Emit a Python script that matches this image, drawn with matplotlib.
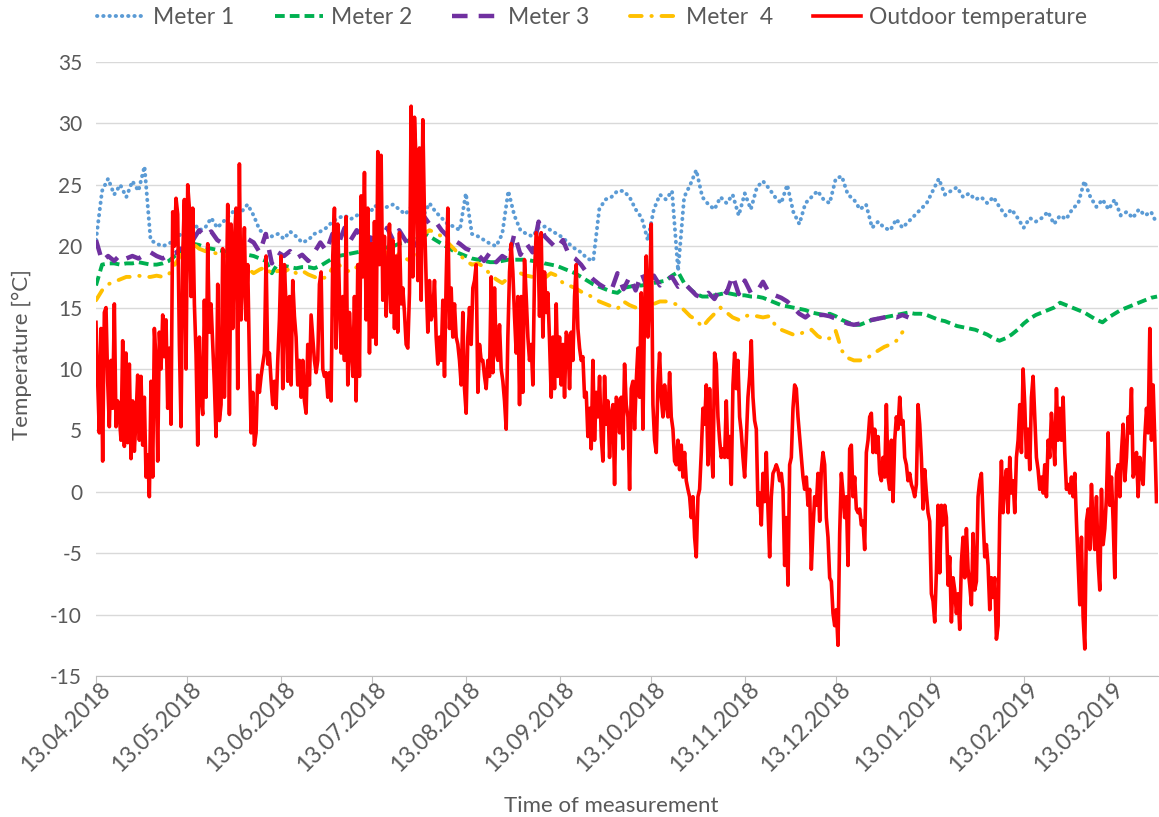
import numpy as np
import pandas as pd
import matplotlib.pyplot as plt
import matplotlib.dates as mdates
from matplotlib.transforms import ScaledTranslation

plt.rcParams['font.family'] = ['Lato', 'DejaVu Sans']
plt.rcParams['axes.unicode_minus'] = False

# outdoor temperature [°C], one reading every 13.2 h from 13.04.2018
outdoor_apr_jun = [
    13.8, 9, 4.8, 13.3, 2.5, 14.6, 15, 9, 5.3, 10.7, 6.8, 15.3, 5.3, 7.4, 6.1, 4.2, 12.3, 3.7, 11.3, 4.0,
    10.4, 2.7, 7.4, 3.3, 6, 9.5, 4.2, 9.4, 3.8, 7.7, 1.2, 3, -0.4, 9.0, 1.2, 13.3, 10.7, 2.5, 13, 10,
    14.4, 11, 14, 6.8, 11.7, 5.5, 22.8, 20, 23.9, 22.6, 12, 5.3, 19.2, 23.8, 10, 25, 23.1, 15.9,
    23.1, 15.3, 11.2, 3.8, 12.6, 7.7, 6.3, 15.6, 7.7, 20.2, 13, 15.3, 12, 8.7, 4.5, 16.9, 5.8, 7.1, 19.8, 7.7,
    14.3, 23.4, 6.3, 21.8, 13.3, 20.5, 23.1, 8.4, 26.7, 14, 17.2, 21.5, 14, 18.5, 10.7, 4.8, 8.1, 3.8, 4.8, 9.5,
    8.1, 9.4, 10.4, 11.3, 19.2, 10.4, 11.3, 9, 7.1, 9, 6.8, 10.7, 14, 19.2, 8.4, 18.5, 15, 9, 15.9, 8.7,
    17.2, 14.3, 12.6, 8.7, 10.7, 7.7,
]
outdoor_jun_aug = [
    10.7, 7.4, 6.4, 12, 8.7, 14.4, 12.6, 10.7, 9.7, 10.7, 16.9, 17.9, 10, 9.4, 9.7, 7.7, 9.7, 7.4, 19.2, 23.1,
    11.7, 21.8, 15.9, 11.3, 15.9, 10.7, 22.4, 8.7, 14.6, 11.7, 9.4, 15.9, 7.4, 18.5, 9.4, 24.1, 17.5, 26, 14, 23.1,
    11.3, 20.2, 12.6, 22, 12, 27.7, 18.5, 27.4, 15.6, 20.8, 14.3, 17.2, 21.8, 14.6, 20.5, 13.3, 19.2, 13, 21.1, 15.3,
    16.6, 14.6, 12,
    11.7, 16.2, 31.4, 17.5, 30.5, 26.7, 17.2, 28, 15.6, 30.3, 22.4, 17.2, 13, 17.2, 14, 14.6, 17.2, 12.6, 10.4, 12.6,
    10.7, 15.6, 9.4, 17.2, 23.1, 13.3, 16.6, 12.6, 15.3, 12.6, 12, 10.7, 8.7, 14.6, 8.4, 6.4, 12.6, 15, 12, 16.6,
    17.2, 18.5, 8.1, 12, 10.7, 10.7, 9.4, 8.4, 10.7, 9.4, 17.5, 9.7, 16.6, 11.3, 10.7, 13.6, 10, 9, 7.4, 5.1,
    12.6, 17.9, 20.2,
]
outdoor_aug_dec = [
    17.9, 14.3, 11.3, 15.9, 7.1, 15.9, 8.1, 18.9, 15.9, 12.6, 10.7, 12, 8.7, 17.9, 21.1, 20.5, 14.3, 21.1, 12.6, 17.9,
    14.6, 16.2, 12.3, 7.7, 12.6, 8.4, 15.3, 9.4, 12.6, 8.7, 12, 7.7, 13, 12.6, 8.4, 13, 10.7, 15.9, 18.5, 13.3,
    11.7, 10.7, 11, 7.7, 8.1, 4.5, 6.8, 3.5, 10.7, 4.2, 8.1, 6.1, 9.4, 4.5, 2.5, 9.4, 5.5, 7.4, 2.8, 6.4,
    7.1, 0.6, 7.7,
    7.4, 4.8, 7.7, 3.5, 10.4, 7.1, 6.1, 0.2, 8.4, 9.0, 5.1, 9, 11.7, 7.7, 16.2, 5.1, 15, 19.2, 12.6, 16.2,
    21.8, 7.1, 4.2, 3.2, 8.7, 11.3, 7.7, 6.1, 8.7, 7.1, 6.1, 9.7, 6.1, 5.1, 2.5, 2.2, 4.2, 1.8, 3.8, 1.2,
    3.2, 0.9, 0.2, -0.4, -2.1, -0.4, -3.7, -5.3, -0.4, 0.2, 3.2, 6.8, 5.5, 8.7, 2.2, 8.4, 3.8, 1.2, 11.3, 10.4,
    6.1, 4.2, 2.8,
    3.5, 2.8, 7.4, 2.8, 4.5, 0.6, 8.7, 11.3, 8.4, 10.7, 6.1, 4.8, 2.8, 1.2, 4.2, 7.7, 9.4, 12.3, 7.7, 5.8,
    5.1, -1.1, -0.1, -2.7, 1.5, -0.8, 3.2, -1.4, -5.3, -0.4, 1.5, 1.8, 2.2, 1.8, 0.9, 1.5, 0.2, -6.0, -2.1, -7.6,
    2.2, 2.8, 6.8, 8.7, 8.4, 6.1, 4.5, 2.8, 1.2, 0.2, 1.2, -1.1, 0.2, -6.3, -3, -0.4, -1.1, 1.5, -2.4, 1.8,
    3.2, 2.2, -2.1,
]
outdoor_dec_mar = [
    -3.7, -7.0, -7.3, -9.9, -10.9, -9.6, -12.5, -3.4, 1.5, -0.1, -2.1, -0.4, -6.0, 3.5, 3.8, -0.4, 1.2, -1.4, -1.7, -1.4,
    -2.7, -2.4, -4.7, 3.2, 4.2, 6.1, 6.4, 3.2, 5.1, 3.2, 4.5, 1.5, 0.9, 2.8, 1.2, 7.1, 1.2, 0.2, 4.2, -0.8,
    4.2, 6.1, 5.1, 7.7, 5.5, 5.8, 2.8, 2.2, 0.9, 1.5, 0.6, 0.2, -0.4, 0.6, 7.1, 5.5, 2.8, -1.4, 1.8, -0.1,
    -1.7, -2.4, -8.3,
    -8.9, -10.6, -6.6, -1.1, -6.6, -1.1, -2.7, -1.1, -2.1, -7.6, -5.3, -10.6, -7.0, -8.0, -9.9, -8.3, -11.2, -5.7, -3.7, -7.0,
    -3.0, -6.3, -7.6, -9.2, -3.4, -8.0, -7.3, -0.4, 0.9, 1.5, -2.1, -5.3, -4.3, -6.0, -9.6, -7.0, -8.6, -7.0, -12.0, -10.9,
    -2.1, 2.5, -1.7, 0.6, 1.8, -1.7, 2.8, -0.1, 0.9, -1.7, 2.8, 4.2, 7.1, 3.2, 10, 7.1, 2.8, 5.1, 1.8, 7.7,
    9.4, 6.1, 2.8,
    1.8, 0.2, 1.2, -0.1, 2.2, -0.4, 4.2, 2.8, 6.4, 4.5, 2.2, 8.4, 4.2, 6.8, 4.2, 7.7, 3.2, 0.2, 0.6, -0.1,
    1.2, -0.4, 1.5, -2.4, -5.7, -9.2, -3.7, -10.2, -12.8, -2.4, -1.4, -4.7, 0.6, -2.7, -4.7, -0.4, -5.7, -8.0, 0.2, -4.3,
    -3.0, -0.4, 4.8, -1.1, 1.2, -2.4, -7.0, 1.5, 2.2, -0.4, 3.2, 5.5, 0.9, 2.8, 6.1, 4.8, 8.4, 1.2, 1.8, 3.2,
    -0.4, 2.8, 1.5, 0.6, 4.5, 6.8, 4.8, 13.3, 4.2, 8.7, 4.2, -0.8,
]

# indoor meters [°C], one value every 2 days from 13.04.2018
meter_1 = [
    20.5, 24.5, 25.5, 24.2, 25, 24, 25.3, 24.5, 26.5, 20.5, 20.2, 20, 20.2, 20.5, 21, 21.5, 22, 21.3,
    21.5, 22.3, 21.5, 22, 22.5, 23, 22.8, 23.4, 22.5, 21.3, 21, 20.8, 21, 20.6, 21.2, 20.8, 20.3,
    20.5, 21, 21.2, 21.5, 22, 22.3, 22.5, 22.2, 22.5, 22.8, 22.6, 23.3, 23, 23.2, 23.4, 23, 22.6,
    23.2, 22.8, 22.5, 23.5, 22.8, 22.3, 21.8, 21.6, 21.3, 24.3, 21, 20.8, 20.5, 20.2, 20, 21, 24.5,
    22.5, 21.3, 21, 20.8, 21.5, 21.6, 21.3, 21, 20.7, 20.2, 19.8, 19.5, 19, 18.8, 23, 23.8, 24, 24.5,
    24.5, 24, 23, 22.3, 20.5, 23, 24.2, 23.8, 24.5, 18, 24, 25, 26.2, 24, 23.4, 23, 24,
    23.5, 24.2, 22.5, 24.3, 23, 24.8, 25.3, 24.7, 24, 23.5, 25, 22.8, 21.8, 23.5, 24, 24.5, 23.8,
    23.5, 25.5, 25.7, 24.2, 23.8, 23, 23.4, 21.5, 22, 21.5, 21.3, 22.2, 21.5, 22, 22.5, 23, 23.5,
    24.5, 25.5, 24.2, 24.5, 24.8, 24, 24.3, 23.8, 24, 23.5, 24, 23.2, 22.5, 23, 22.3, 21.5, 22.3, 22,
    22.3, 22.8, 21.8, 22.5, 22.2, 23, 23.5, 25.3, 24, 23.2, 23.8, 23, 23.8, 22.5, 22.8, 22.3, 23, 22.5, 22.8, 21.8,
]
meter_2 = [
    16.8, 18.5, 18.6, 18.6, 18.5, 18.6, 18.6, 18.7, 18.6, 18.5, 18.5, 18.6, 18.8, 19.2, 19.6, 20, 20.2,
    20.1, 19.9, 19.8, 19.7, 19.6, 19.5, 19.5, 19.4, 19.3, 19.2, 19, 18.8, 17.8, 18.6, 18.4, 18.3, 18.2,
    18.3, 18.3, 18.2, 18.4, 18.7, 19, 19.2, 19.3, 19.4, 19.5, 19.6, 19.6, 19.7, 19.8, 19.9, 20, 20.2,
    20.3, 20.6, 20.9, 21.1, 20.8, 20.5, 20.2, 19.9, 19.6, 19.4, 19.2, 19.0, 18.9, 18.8, 18.7, 18.7, 18.8, 18.9,
    18.9, 18.9, 18.9, 18.8, 18.8, 18.6, 18.5, 18.4, 18.2, 18, 17.8, 17.5, 17.2, 16.9, 16.7, 16.5, 16.3, 16.2,
    16.6, 16.7, 16.8, 16.8, 16.9, 17, 17.1, 17.2, 17.6, 17.9, 17, 16.5, 16.1, 15.9, 15.9, 16, 16.1,
    16.2, 16.1, 16, 16, 15.9, 15.9, 15.8, 15.6, 15.4, 15.2, 15.1, 15, 14.9, 14.8, 14.6, 14.5, 14.4,
    14.5, 14.3, 14, 13.8, 13.6, 13.6, 13.8, 14, 14.1, 14.2, 14.3, 14.4, 14.5, 14.6, 14.5, 14.5, 14.4,
    14.2, 14, 13.9, 13.7, 13.5, 13.4, 13.3, 13.2, 13, 12.8, 12.5, 12.3, 12.5, 12.8, 13.2, 13.7, 14.1, 14.4,
    14.6, 14.8, 15, 15.4, 15.2, 15, 14.8, 14.6, 14.3, 14, 13.8, 14.2, 14.5, 14.8, 15, 15.2, 15.4, 15.6, 15.8, 15.9,
]
meter_3 = [
    20.5, 18.8, 19.2, 18.8, 19.3, 19, 19.2, 19, 19.3, 19.5, 19.2, 19, 19.3, 19.4, 19.8, 19.6, 20.5,
    21.3, 20.8, 21.2, 20.5, 20.2, 20.8, 20.4, 20.1, 20.6, 20.3, 19.5, 21, 18.6, 19.5, 19.2, 19.6, 19,
    19.3, 18.8, 19.5, 20.3, 19.6, 21, 20.2, 21.5, 20.5, 21.3, 20.6, 20, 21.5, 20.3, 21.5, 20.5, 21.3,
    20.5, 19.8, 20.3, 22.5, 21.8, 22, 21.3, 20.8, 20.5, 20.2, 19.8, 19.6, 19.3, 18.8, 19.5, 18.7, 19.2, 18.9,
    21, 19.3, 20.2, 19.5, 22, 20.8, 20.3, 19.8, 20.5, 19.3, 19, 18.5, 17.8, 17.3, 16.9, 16.6, 16.4, 17.8,
    16.5, 17.5, 16.4, 17.8, 16.5, 17.6, 16.8, 17.3, 17.5, 16.7, 17, 16.5, 16, 15.8, 16.2, 15.7, 16.6,
    16.2, 17.6, 16.1, 17.2, 16.2, 16.3, 17.1, 16.2, 16, 15.8, 15.5, 15, 14.5, 14.2, 14.6, 14.4, 14.4,
    14.3, 14.1, 13.9, 13.7, 13.6, 13.7, 13.9, 14, 14.1, 14.2, 14.3, 14.2, 14.4, 14.2,
]
meter_4 = [
    15.6, 16.4, 16.9, 17.1, 17.3, 17.5, 17.5, 17.6, 17.5, 17.5, 17.6, 17.5, 17.7, 18.5, 19.3, 19.8, 20.2,
    19.8, 19.6, 19.5, 19.4, 19.3, 19.1, 18.8, 18.5, 18.2, 17.8, 18.1, 18.3, 17.7, 18, 17.9, 18.2, 17.8,
    18, 17.7, 17.5, 17.3, 17.5, 18.2, 18.5, 18.1, 17.9, 18.3, 18.8, 19.2, 19, 18.8, 19.5, 19.6, 19.3,
    19, 18.8, 20, 21, 21.3, 21.1, 20.8, 20.3, 19.8, 19.3, 18.8, 18.5, 18.6, 18.3, 17.7, 17.3, 17, 17.4,
    17.9, 17.8, 17.6, 17.5, 18, 17.4, 17.8, 17.6, 17, 16.8, 16.6, 16.3, 16.1, 15.8, 15.5, 15.3, 15.1, 14.9,
    15.5, 15.2, 15, 15, 15.1, 15.3, 15.5, 15.5, 15.4, 15.2, 14.8, 14.3, 14, 13.4, 14, 14.5, 15,
    14.6, 14.2, 14, 14.3, 14.4, 14.3, 14.2, 14.3, 13.6, 13.2, 13, 12.8, 12.8, 13.1, 13.2, 12.7, 12.4,
    12.5, 13.1, 11.5, 10.9, 10.7, 10.7, 10.8, 11.2, 11.5, 11.8, 12, 12.3, 13,
]

start = pd.Timestamp('2018-04-13')
outdoor = outdoor_apr_jun + outdoor_jun_aug + outdoor_aug_dec + outdoor_dec_mar
outdoor_time = start + pd.to_timedelta(np.arange(len(outdoor)) * 13.2, unit='h')
meter_time = pd.date_range(start, periods=len(meter_1), freq='2D')

text_color = '#595959'
fig = plt.figure(figsize=(11.59, 8.17), dpi=100)
ax = fig.add_axes([96 / 1159, 1 - 676 / 817, (1158 - 96) / 1159, (676 - 62) / 817])

ax.plot(meter_time, meter_1, color='#5B9BD5', lw=2.8, linestyle=(0, (0.1, 1.5)),
        dash_capstyle='round', label='Meter 1')
ax.plot(meter_time, meter_2, color='#00B050', lw=2.8, linestyle=(0, (2.5, 1.3)), label='Meter 2')
ax.plot(meter_time[:len(meter_3)], meter_3, color='#7030A0', lw=3.2, linestyle=(0, (3.5, 2.5)),
        label='Meter 3')
ax.plot(meter_time[:len(meter_4)], meter_4, color='#FFC000', lw=2.8,
        linestyle=(0, (3, 2.5, 0.1, 2.5)), dash_capstyle='round', label='Meter  4')
ax.plot(outdoor_time, outdoor, color='#FF0000', lw=2.6, label='Outdoor temperature')

ax.set_ylim(-15, 35)
ax.set_yticks(np.arange(-15, 36, 5))
ax.set_xlim(start, outdoor_time[-1] + pd.Timedelta(hours=12))
xticks = pd.date_range('2018-04-13', '2019-03-13', freq=pd.DateOffset(months=1))
ax.set_xticks(xticks)
ax.xaxis.set_major_formatter(mdates.DateFormatter('%d.%m.%Y'))

ax.grid(axis='y', color='#D9D9D9', lw=1.0)
ax.set_axisbelow(True)
for side in ['top', 'right', 'left']:
    ax.spines[side].set_visible(False)
ax.spines['bottom'].set_color('#BFBFBF')
ax.tick_params(axis='y', length=0, pad=10, labelsize=15, labelcolor=text_color)
ax.tick_params(axis='x', length=5, color='#BFBFBF', pad=2, labelsize=16.5, labelcolor=text_color)
shift = ScaledTranslation(0.11, 0, fig.dpi_scale_trans)
for lbl in ax.get_xticklabels():
    lbl.set_rotation(45)
    lbl.set_ha('right')
    lbl.set_va('center')
    lbl.set_rotation_mode('anchor')
    lbl.set_transform(lbl.get_transform() + shift)

fig.text(22 / 1159, 1 - 355 / 817, 'Temperature [°C]', rotation=90, ha='center', va='center',
         fontsize=16, color=text_color)
fig.text(611 / 1159, 1 - 806 / 817, 'Time of measurement', ha='center', va='center',
         fontsize=16, color=text_color)

fig.legend(loc='center', bbox_to_anchor=(0.511, 0.979), ncol=5, frameon=False, fontsize=16.5,
           handlelength=2.1, handletextpad=0.35, columnspacing=1.75, labelcolor=text_color)

fig.savefig('out.png', dpi=100)
